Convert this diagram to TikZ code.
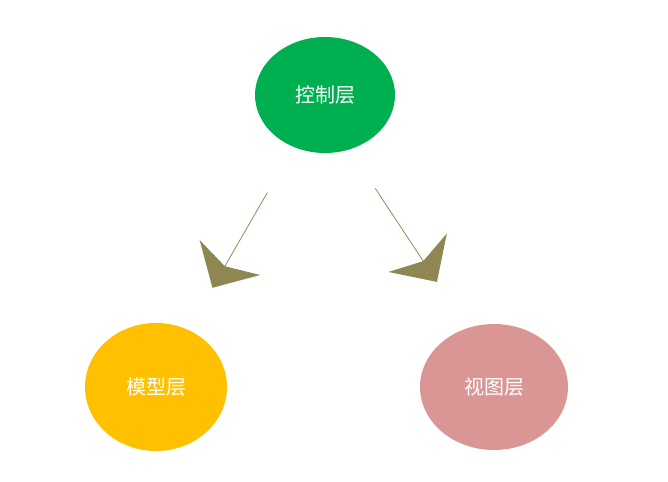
\documentclass[tikz,border=0pt]{standalone}
\usepackage{fontspec}
\newfontfamily\cjk{Noto Sans CJK SC}
\usetikzlibrary{shapes.arrows,shapes.geometric}
\definecolor{ctrlgreen}{HTML}{00B050}
\definecolor{modelgold}{HTML}{FFC000}
\definecolor{viewpink}{HTML}{D99694}
\definecolor{arrowolive}{HTML}{8F8752}
\tikzset{
  layer/.style={ellipse,inner sep=0pt,text=white,font=\cjk\fontsize{20}{20}\selectfont},
  blockarrow/.style={single arrow,fill=arrowolive,inner sep=0pt,minimum width=70pt,
    single arrow head extend=18pt,single arrow head indent=10pt}
}
\begin{document}
\begin{tikzpicture}[x=1pt,y=-1pt]
  \useasboundingbox (0,0) rectangle (668,481);
  \node[layer,fill=ctrlgreen,minimum width=140pt,minimum height=116pt] (ctrl) at (325,95) {控制层};
  \node[layer,fill=modelgold,minimum width=142pt,minimum height=128pt] (model) at (156,387) {模型层};
  \node[layer,fill=viewpink,minimum width=148pt,minimum height=126pt] (view) at (494,387) {视图层};

  \node[blockarrow,minimum height=110pt,rotate=-120] (toleft) at (240,240) {};
  \node[blockarrow,minimum height=112pt,rotate=-56.6] (toright) at (406,235) {};
\end{tikzpicture}
\end{document}
